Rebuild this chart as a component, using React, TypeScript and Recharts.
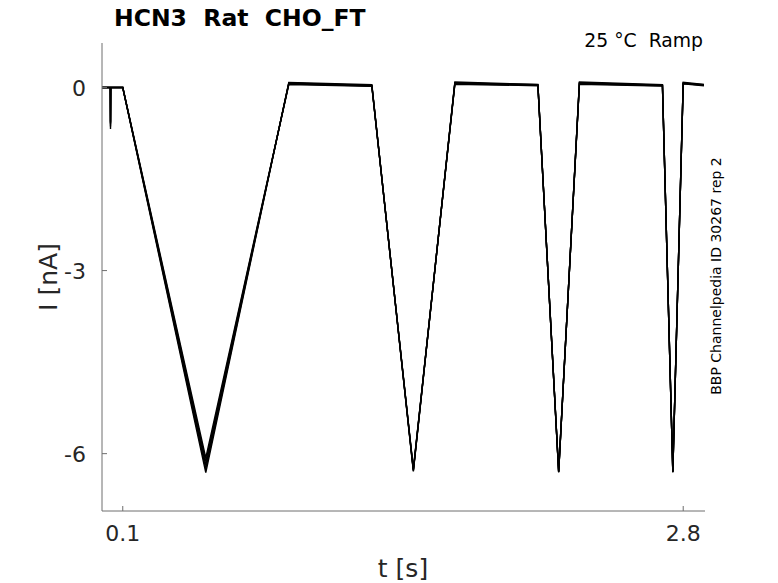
import { Line, LineChart, XAxis, YAxis } from "recharts"

// sweep sample times [s]
const time = [0, 0.04, 0.041, 0.042, 0.1, 0.5, 0.9, 1.3, 1.5, 1.7, 2.1, 2.2, 2.3, 2.7, 2.75, 2.8, 2.9]

// current of each repeated sweep [nA], one value per time point
const sweep1 = [0, 0, -0.68, 0, 0, -6.31, 0.085, 0.045, -6.29, 0.09, 0.05, -6.31, 0.09, 0.045, -6.31, 0.085, 0.05]
const sweep2 = [0, 0, -0.64, 0, 0, -6.25, 0.075, 0.035, -6.28, 0.08, 0.045, -6.3, 0.08, 0.04, -6.3, 0.075, 0.045]
const sweep3 = [0, 0, -0.6, 0, 0, -6.19, 0.07, 0.03, -6.27, 0.075, 0.04, -6.3, 0.075, 0.035, -6.3, 0.07, 0.04]
const sweep4 = [0, 0, -0.58, 0, 0, -6.13, 0.06, 0.025, -6.26, 0.065, 0.035, -6.29, 0.065, 0.03, -6.29, 0.065, 0.035]
const sweep5 = [0, 0, -0.56, 0, 0, -6.07, 0.05, 0.02, -6.25, 0.055, 0.03, -6.28, 0.055, 0.025, -6.29, 0.06, 0.03]

const sweeps = [sweep1, sweep2, sweep3, sweep4, sweep5]

const xTicks = [0.1, 2.8]
const yTicks = [-6, -3, 0]

const data = time.map((t, i) => {
  const row: Record<string, number> = { t }
  sweeps.forEach((s, k) => {
    row[`s${k}`] = s[i]
  })
  return row
})

const FONT = "'DejaVu Sans', sans-serif"
const TEXT = "#262626"
const AXIS = "#6e6e6e"

function XTick(props: any) {
  const { x, y, payload } = props
  return (
    <g>
      <line x1={x} x2={x} y1={y} y2={y - 5} stroke={AXIS} />
      <text x={x} y={y + 30} textAnchor="middle" fontSize={22} fill={TEXT} fontFamily={FONT}>
        {payload.value}
      </text>
    </g>
  )
}

function YTick(props: any) {
  const { x, y, payload } = props
  return (
    <g>
      <line x1={x} x2={x + 5} y1={y} y2={y} stroke={AXIS} />
      <text x={x - 16} y={y + 8} textAnchor="end" fontSize={22} fill={TEXT} fontFamily={FONT}>
        {payload.value}
      </text>
    </g>
  )
}

export default function App() {
  return (
    <div style={{ position: "absolute", left: 0, top: 0, width: 778, height: 583, background: "#fff" }}>
      <LineChart width={778} height={583} data={data} margin={{ top: 43, right: 73, bottom: 0, left: 0 }}>
        <XAxis
          dataKey="t"
          type="number"
          domain={[0, 2.905]}
          ticks={xTicks}
          height={72}
          tickSize={0}
          tickMargin={0}
          tickLine={false}
          axisLine={{ stroke: AXIS, strokeWidth: 1 }}
          tick={<XTick />}
          allowDataOverflow
        />
        <YAxis
          type="number"
          domain={[-6.94, 0.73]}
          ticks={yTicks}
          width={102}
          tickSize={0}
          tickMargin={0}
          tickLine={false}
          axisLine={{ stroke: AXIS, strokeWidth: 1 }}
          tick={<YTick />}
          allowDataOverflow
        />
        {sweeps.map((_, k) => (
          <Line
            key={k}
            dataKey={`s${k}`}
            type="linear"
            stroke="#000"
            strokeWidth={1.4}
            dot={false}
            isAnimationActive={false}
          />
        ))}
      </LineChart>
      <svg
        width={778}
        height={583}
        style={{ position: "absolute", left: 0, top: 0, pointerEvents: "none" }}
        fontFamily={FONT}
      >
        <text x={114} y={26} fontSize={23.5} fontWeight="bold" fill="#000" style={{ whiteSpace: "pre" }}>
          HCN3  Rat  CHO_FT
        </text>
        <text x={703} y={47} fontSize={18.8} textAnchor="end" fill="#000" style={{ whiteSpace: "pre" }}>
          25 °C  Ramp
        </text>
        <text x={403} y={577} fontSize={25} textAnchor="middle" fill={TEXT}>
          t [s]
        </text>
        <text x={57} y={277} fontSize={25} textAnchor="middle" fill={TEXT} transform="rotate(-90 57 277)">
          I [nA]
        </text>
        <text x={721} y={276} fontSize={14} textAnchor="middle" fill="#000" transform="rotate(-90 721 276)">
          BBP Channelpedia ID 30267 rep 2
        </text>
      </svg>
    </div>
  )
}
